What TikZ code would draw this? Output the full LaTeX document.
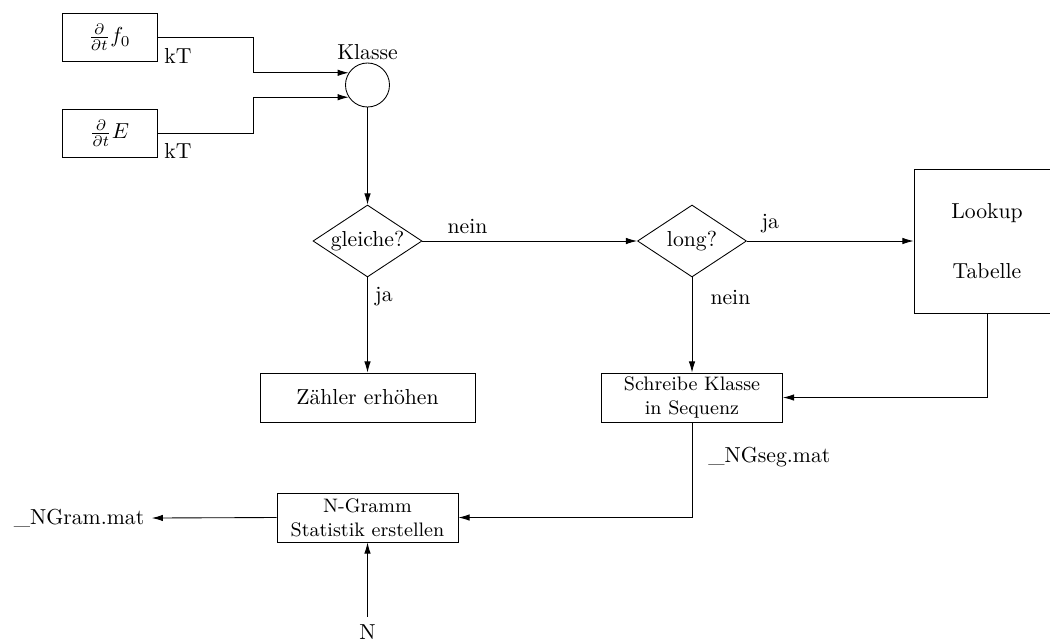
\documentclass[tikz,border=0pt]{standalone}
\usetikzlibrary{shapes.geometric,arrows.meta}
\begin{document}
\begin{tikzpicture}[scale=0.162]
\tikzstyle{block}=[draw=black, rectangle, inner sep=0pt, align=center]
\tikzstyle{frage}=[draw=black, diamond, inner sep=0pt, aspect=1.5, minimum width=1.766cm, minimum height=1.166cm]
\tikzstyle{pfeil}=[-{Latex[length=1.8mm,width=1.05mm]}, black]
\useasboundingbox (0,0) rectangle (105,-64.1);
\node [block, minimum width=1.539cm, minimum height=0.778cm] (f0) at (10.95,-3.7) {$\frac{\partial}{\partial t}f_0$};
\node [block, minimum width=1.539cm, minimum height=0.778cm] (en) at (10.95,-13.3) {$\frac{\partial}{\partial t}E$};
\node (kt1) at (17.8,-5.6) {kT};
\node (kt2) at (17.8,-15.1) {kT};
\node [draw=black, circle, minimum size=0.713cm, inner sep=0pt] (klasse) at (36.75,-8.5) {};
\node (klassetxt) at (36.75,-5.2) {Klasse};
\node [frage] (gl) at (36.75,-24.1) {gleiche?};
\node [frage] (lg) at (69.2,-24.1) {long?};
\node [block, minimum width=2.365cm, minimum height=2.333cm] (lookup) at (98.7,-24.1) {Lookup\\[16pt]Tabelle};
\node [block, minimum width=3.483cm, minimum height=0.794cm] (zaehler) at (36.75,-39.75) {Z\"ahler erh\"ohen};
\node [block, minimum width=2.932cm, minimum height=0.794cm, font=\small] (schreibe) at (69.2,-39.75) {Schreibe Klasse\\in Sequenz};
\node [block, minimum width=2.932cm, minimum height=0.794cm, font=\small] (ngram) at (36.75,-51.75) {N-Gramm\\Statistik erstellen};
\node (ngout) at (7.9,-51.8) {\_NGram.mat};
\node (nin) at (36.75,-63.2) {N};
% Eingaenge
\draw [pfeil] (f0.east) -- ++(9.6,0) |- (klasse.147);
\draw [pfeil] (en.east) -- ++(9.6,0) |- (klasse.213);
\draw [pfeil] (klasse.south) -- (gl.north);
% Entscheidungen
\draw [pfeil] (gl.east) -- node [pos=0.21, above] (nein1) {nein} (lg.west);
\draw [pfeil] (gl.south) -- node [pos=0.2, right] (ja1) {ja} (zaehler.north);
\draw [pfeil] (lg.east) -- node [pos=0.14, above] (ja2) {ja} (lookup.west);
\draw [pfeil] (lg.south) -- node [pos=0.21, right=5pt] (nein2) {nein} (schreibe.north);
\draw [pfeil] (lookup.south) |- (schreibe.east);
\draw [pfeil] (schreibe.south) |- node [pos=0.18, right=4pt] (ngseg) {\_NGseg.mat} (ngram.east);
\draw [pfeil] (ngram.west) -- (ngout.east);
\draw [pfeil] (nin.north) -- (ngram.south);
\end{tikzpicture}
\end{document}
